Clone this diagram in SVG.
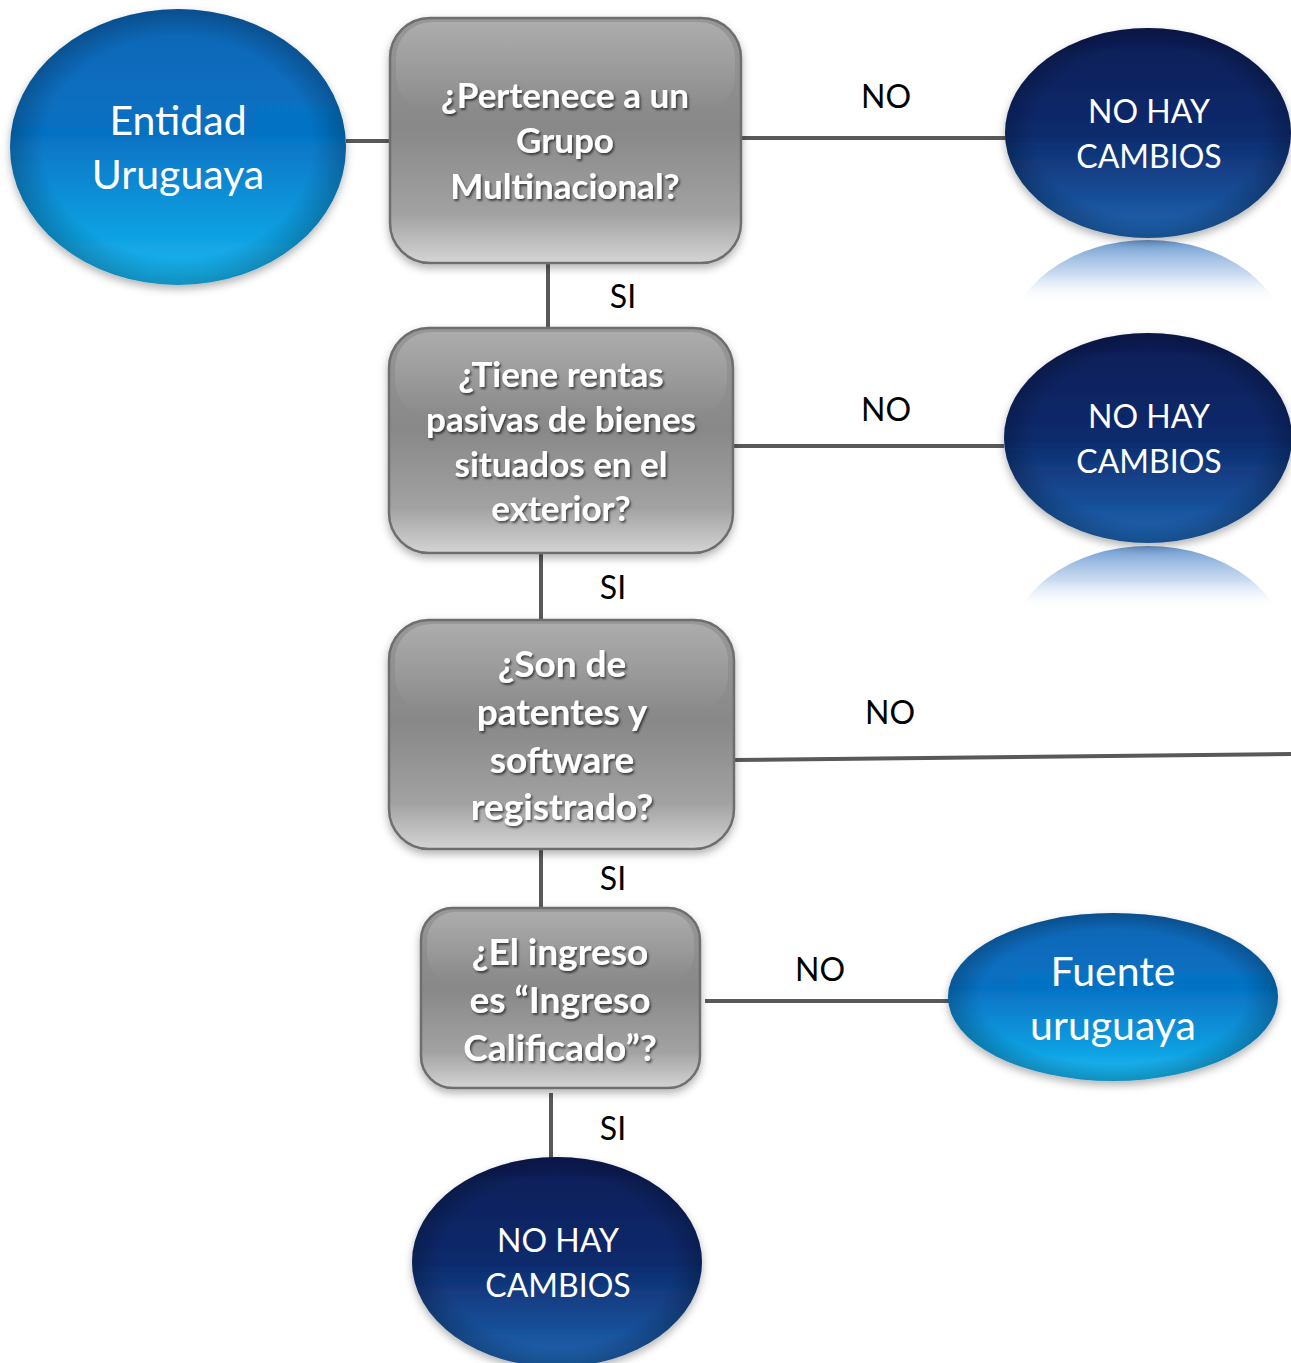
<svg xmlns="http://www.w3.org/2000/svg" width="1291" height="1363" viewBox="0 0 1291 1363">
<defs>
<linearGradient id="gBox" x1="0" y1="0" x2="0" y2="1">
<stop offset="0" stop-color="#989898"/>
<stop offset="0.45" stop-color="#888888"/>
<stop offset="0.8" stop-color="#a2a2a2"/>
<stop offset="1" stop-color="#d4d4d4"/>
</linearGradient>
<linearGradient id="gLight" x1="0" y1="0" x2="0" y2="1">
<stop offset="0" stop-color="#0a64b4"/>
<stop offset="0.45" stop-color="#0672c4"/>
<stop offset="0.75" stop-color="#0c98dc"/>
<stop offset="1" stop-color="#1ab8f2"/>
</linearGradient>
<linearGradient id="gDark" x1="0" y1="0" x2="0" y2="1">
<stop offset="0" stop-color="#0b1d56"/>
<stop offset="0.5" stop-color="#0d2a6c"/>
<stop offset="1" stop-color="#1f66b4"/>
</linearGradient>
<radialGradient id="gEdge" cx="0.5" cy="0.5" r="0.5">
<stop offset="0.8" stop-color="#000" stop-opacity="0"/>
<stop offset="1" stop-color="#000" stop-opacity="0.22"/>
</radialGradient>
<linearGradient id="gRefl1" gradientUnits="userSpaceOnUse" x1="0" y1="240" x2="0" y2="302">
<stop offset="0" stop-color="#4f86c8" stop-opacity="0.85"/>
<stop offset="0.55" stop-color="#9dbde4" stop-opacity="0.55"/>
<stop offset="1" stop-color="#ffffff" stop-opacity="0.05"/>
</linearGradient>
<linearGradient id="gRefl2" gradientUnits="userSpaceOnUse" x1="0" y1="546" x2="0" y2="608">
<stop offset="0" stop-color="#4f86c8" stop-opacity="0.85"/>
<stop offset="0.55" stop-color="#9dbde4" stop-opacity="0.55"/>
<stop offset="1" stop-color="#ffffff" stop-opacity="0.05"/>
</linearGradient>
<linearGradient id="gHi" x1="0" y1="0" x2="0" y2="1">
<stop offset="0" stop-color="#fff" stop-opacity="0.2"/>
<stop offset="1" stop-color="#fff" stop-opacity="0"/>
</linearGradient>
<filter id="shadow" x="-10%" y="-10%" width="120%" height="125%">
<feDropShadow dx="0" dy="4" stdDeviation="4" flood-color="#000" flood-opacity="0.3"/>
</filter>
<filter id="tshadow" x="-10%" y="-30%" width="120%" height="160%">
<feDropShadow dx="1.5" dy="2" stdDeviation="1.2" flood-color="#000" flood-opacity="0.6"/>
</filter>
<clipPath id="cR1"><rect x="1000" y="240" width="291" height="62"/></clipPath>
<clipPath id="cR2"><rect x="1000" y="546" width="291" height="62"/></clipPath>
</defs>
<style>
.box{fill:url(#gBox);stroke:#6e6e6e;stroke-width:2.5}
.btxt{font-family:Lato,"Open Sans",sans-serif;font-weight:bold;fill:#fff;text-anchor:middle;filter:url(#tshadow)}
.etxt{font-family:Lato,"Open Sans",sans-serif;fill:#fff;text-anchor:middle}
.lbl{font-family:Lato,"Open Sans",sans-serif;font-size:32px;fill:#000;text-anchor:middle}
.con{stroke:#595959;stroke-width:4;fill:none}
</style>
<rect width="1291" height="1363" fill="#fff"/>
<g id="connectors">
<line class="con" x1="346" y1="141" x2="390" y2="141"/>
<line class="con" x1="741" y1="138" x2="1006" y2="138"/>
<line class="con" x1="548" y1="263" x2="548" y2="328"/>
<line class="con" x1="733" y1="446" x2="1004" y2="446"/>
<line class="con" x1="541" y1="553" x2="541" y2="620"/>
<line class="con" x1="734" y1="760" x2="1291" y2="754"/>
<line class="con" x1="541" y1="849" x2="541" y2="908"/>
<line class="con" x1="705" y1="1001" x2="950" y2="1001"/>
<line class="con" x1="551" y1="1093" x2="551" y2="1158"/>
<text class="lbl" x="886" y="108">NO</text>
<text class="lbl" x="623" y="308">SI</text>
<text class="lbl" x="886" y="421">NO</text>
<text class="lbl" x="613" y="599">SI</text>
<text class="lbl" x="890" y="724">NO</text>
<text class="lbl" x="613" y="890">SI</text>
<text class="lbl" x="820" y="981">NO</text>
<text class="lbl" x="613" y="1140">SI</text>
</g>
<g id="entidad">
<ellipse cx="178" cy="147" rx="168" ry="138" fill="url(#gLight)" filter="url(#shadow)"/>
<ellipse cx="178" cy="147" rx="168" ry="138" fill="url(#gEdge)"/>
<text class="etxt" font-size="41" x="178" y="135">Entidad</text>
<text class="etxt" font-size="41" x="178" y="189">Uruguaya</text>
</g>
<g id="q1">
<rect class="box" x="390" y="18" width="351" height="245" rx="40" filter="url(#shadow)"/>
<rect x="396" y="22" width="339" height="90" rx="36" fill="url(#gHi)"/>
<text class="btxt" font-size="35" x="565" y="108">¿Pertenece a un</text>
<text class="btxt" font-size="35" x="565" y="153">Grupo</text>
<text class="btxt" font-size="35" x="565" y="199">Multinacional?</text>
</g>
<g id="nohay1">
<ellipse cx="1148" cy="345" rx="140" ry="105" fill="url(#gRefl1)" clip-path="url(#cR1)"/>
<ellipse cx="1148" cy="133" rx="143" ry="105" fill="url(#gDark)" filter="url(#shadow)"/>
<ellipse cx="1148" cy="133" rx="143" ry="105" fill="url(#gEdge)"/>
<text class="etxt" font-size="32" x="1149" y="123">NO HAY</text>
<text class="etxt" font-size="32" x="1149" y="168">CAMBIOS</text>
</g>
<g id="q2">
<rect class="box" x="389" y="328" width="344" height="225" rx="40" filter="url(#shadow)"/>
<rect x="395" y="332" width="332" height="85" rx="36" fill="url(#gHi)"/>
<text class="btxt" font-size="35" x="561" y="387">¿Tiene rentas</text>
<text class="btxt" font-size="35" x="561" y="432">pasivas de bienes</text>
<text class="btxt" font-size="35" x="561" y="477">situados en el</text>
<text class="btxt" font-size="35" x="561" y="521">exterior?</text>
</g>
<g id="nohay2">
<ellipse cx="1148" cy="651" rx="140" ry="105" fill="url(#gRefl2)" clip-path="url(#cR2)"/>
<ellipse cx="1148" cy="438" rx="144" ry="105" fill="url(#gDark)" filter="url(#shadow)"/>
<ellipse cx="1148" cy="438" rx="144" ry="105" fill="url(#gEdge)"/>
<text class="etxt" font-size="32" x="1149" y="428">NO HAY</text>
<text class="etxt" font-size="32" x="1149" y="473">CAMBIOS</text>
</g>
<g id="q3">
<rect class="box" x="389" y="620" width="345" height="229" rx="40" filter="url(#shadow)"/>
<rect x="395" y="624" width="333" height="88" rx="36" fill="url(#gHi)"/>
<text class="btxt" font-size="37" x="562" y="677">¿Son de</text>
<text class="btxt" font-size="37" x="562" y="725">patentes y</text>
<text class="btxt" font-size="37" x="562" y="773">software</text>
<text class="btxt" font-size="37" x="562" y="820">registrado?</text>
</g>
<g id="q4">
<rect class="box" x="421" y="908" width="279" height="180" rx="32" filter="url(#shadow)"/>
<rect x="427" y="912" width="267" height="70" rx="28" fill="url(#gHi)"/>
<text class="btxt" font-size="37" x="560" y="965">¿El ingreso</text>
<text class="btxt" font-size="37" x="560" y="1013">es “Ingreso</text>
<text class="btxt" font-size="37" x="560" y="1061">Calificado”?</text>
</g>
<g id="fuente">
<ellipse cx="1113" cy="997" rx="165" ry="84" fill="url(#gLight)" filter="url(#shadow)"/>
<ellipse cx="1113" cy="997" rx="165" ry="84" fill="url(#gEdge)"/>
<text class="etxt" font-size="41" x="1113" y="986">Fuente</text>
<text class="etxt" font-size="41" x="1113" y="1040">uruguaya</text>
</g>
<g id="nohay3">
<ellipse cx="557" cy="1262" rx="145" ry="105" fill="url(#gDark)" filter="url(#shadow)"/>
<ellipse cx="557" cy="1262" rx="145" ry="105" fill="url(#gEdge)"/>
<text class="etxt" font-size="32" x="558" y="1252">NO HAY</text>
<text class="etxt" font-size="32" x="558" y="1297">CAMBIOS</text>
</g>
</svg>
